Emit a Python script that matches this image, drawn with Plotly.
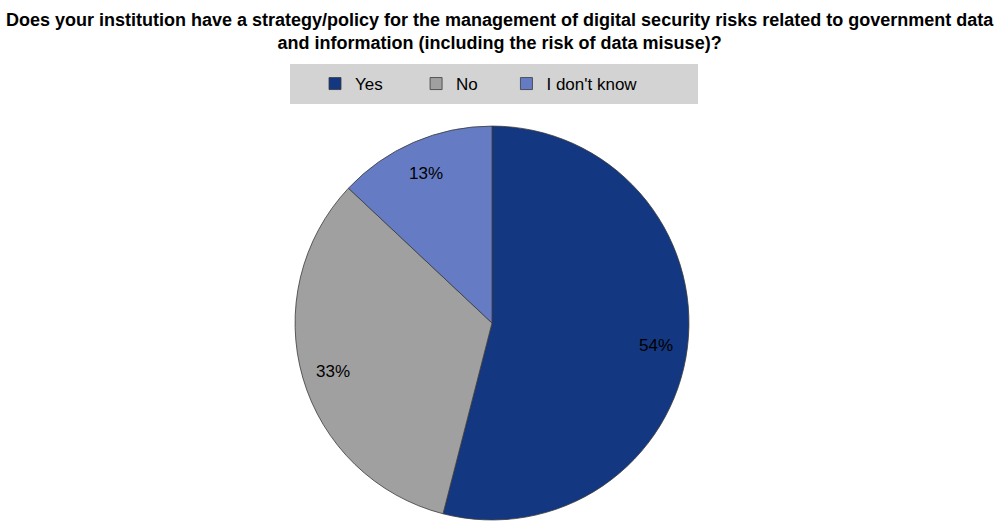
import math
import plotly.graph_objects as go

labels = ["Yes", "No", "I don't know"]
values = [54, 33, 13]
colors = ["#143781", "#a0a0a0", "#657cc4"]

title_text = ("<b>Does your institution have a strategy/policy for the management of digital security risks related to government data<br>"
              "and information (including the risk of data misuse)?</b>")

font_family = "Liberation Sans, Arial, sans-serif"
W, H = 1000, 521
dom_x = [0.295, 0.689]
dom_y = [0.002, 0.758]

# trailing non-breaking spaces widen the legend entries to match the reference spacing
legend_pad = [6, 5, 0]
legend_labels = [lab + "\u00a0" * n for lab, n in zip(labels, legend_pad)]

fig = go.Figure(go.Pie(
    labels=legend_labels,
    values=values,
    marker=dict(colors=colors, line=dict(color="#3a3a3a", width=0.8)),
    sort=False,
    direction="clockwise",
    rotation=0,
    textinfo="none",
    domain=dict(x=dom_x, y=dom_y),
    hoverinfo="label+percent",
))

# percentage labels placed at 0.84 of the radius, at each slice's mid-angle
cx_px = (dom_x[0] + dom_x[1]) / 2 * W
cy_px = (dom_y[0] + dom_y[1]) / 2 * H
radius = min((dom_x[1] - dom_x[0]) * W, (dom_y[1] - dom_y[0]) * H) / 2
total = sum(values)
cum = 0
for lab, v in zip(labels, values):
    mid = (cum + v / 2) / total * 2 * math.pi
    cum += v
    r = radius * 0.84
    px = cx_px + r * math.sin(mid)
    py = cy_px + r * math.cos(mid) - 2
    fig.add_annotation(x=px / W, y=py / H, xref="paper", yref="paper",
                       text=f"{round(v / total * 100)}%", showarrow=False,
                       font=dict(family=font_family, size=17, color="#000000"),
                       xanchor="center", yanchor="middle")

# title
fig.add_annotation(x=0.5, y=1 - 31.5 / H, xref="paper", yref="paper",
                   text=title_text, showarrow=False, xanchor="center", yanchor="middle",
                   font=dict(family=font_family, size=18, color="#000000"))

# legend background box
fig.add_shape(type="rect", xref="paper", yref="paper",
              x0=0.290, x1=0.698, y0=1 - 104 / H, y1=1 - 64 / H,
              fillcolor="#d3d3d3", line=dict(width=0), layer="below")

fig.update_layout(
    width=W, height=H,
    margin=dict(l=0, r=0, t=0, b=0),
    paper_bgcolor="white",
    font=dict(family=font_family, color="#000000"),
    legend=dict(orientation="h", x=0.479, xanchor="center", y=1 - 84 / H, yanchor="middle",
                bgcolor="rgba(0,0,0,0)", font=dict(family=font_family, size=17),
                traceorder="normal", itemwidth=30),
    showlegend=True,
)

fig.write_html("out.html", config={"displayModeBar": False},
               post_script="document.body.style.margin='0px';document.body.style.overflow='hidden';")
